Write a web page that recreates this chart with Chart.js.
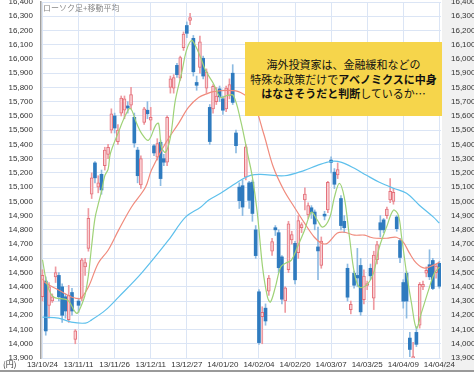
<!DOCTYPE html>
<html>
<head>
<meta charset="utf-8">
<script src="https://cdn.jsdelivr.net/npm/chart.js@4.4.0/dist/chart.umd.min.js"></script>
<style>
  body { margin: 0; background: #fff; }
  #wrap { position: relative; width: 474px; height: 372px; }
  #title { position: absolute; left: 43px; top: 2px; font: 8px "Noto Sans CJK JP"; color: #888; }
  #unit { position: absolute; left: 3px; top: 358px; font: 8px "Noto Sans CJK JP"; color: #333; }
  #note {
    position: absolute; left: 245px; top: 42px; width: 197px; height: 74px;
    background: #f6d54b; display: flex; align-items: center; justify-content: center;
    font: 11px/14.5px "Noto Sans CJK JP"; color: #111; text-align: center;
  }
  #note b { font-weight: 700; }
</style>
</head>
<body>
<div id="wrap">
  <canvas id="candleChart" width="474" height="372"></canvas>
  <div id="title">ローソク足+移動平均</div>
  <div id="unit">(円)</div>
  <div id="note"><div>海外投資家は、金融緩和などの<br>特殊な政策だけで<b>アベノミクスに中身</b><br><b>はなさそうだと判断</b>しているか…</div></div>
</div>
<script>
// tick labels, one every 11 trading days
const tickDates = ["13/10/24", "13/11/11", "13/11/26", "13/12/11", "13/12/27", "14/01/20",
  "14/02/04", "14/02/20", "14/03/07", "14/03/25", "14/04/09", "14/04/24"];

// daily candles (index 0 = 13/10/24)
const opens = [14330, 14440, 14270, 14300, 14470, 14480, 14400, 14330, 14170, 14360,
  14030, 14300, 14320, 14540, 14670, 15050, 15270, 15100, 15190, 15250,
  15330, 15500, 15600, 15420, 15620, 15640, 15670, 15675, 15590, 15360,
  15115, 15555, 15640, 15570, 15390, 15310, 15415, 15300, 15275, 15800,
  15795, 15955, 15865, 16080, 16235, 16270, 16145, 15835, 15940, 16005,
  15795, 15660, 15650, 15700, 15790, 15720, 15650, 15740, 15900, 15480,
  15100, 15110, 15170, 15130, 15135, 14800, 14365, 14190, 14250, 14370,
  14650, 14815, 14780, 14610, 14300, 14520, 14730, 14705, 14640, 14815,
  15010, 14905, 14955, 14925, 14680, 14550, 14910, 14940, 15290, 15205,
  15185, 15020, 14860, 14530, 14240, 14495, 14480, 14550, 14310, 14410,
  14530, 14320, 14590, 14850, 14870, 14900, 15010, 15000, 14890, 14725,
  14430, 14495, 14040, 13895, 14080, 14130, 14400, 14495, 14555, 14585,
  14500, 14565];
const highs = [14520, 14470, 14430, 14350, 14540, 14500, 14420, 14350, 14410, 14390,
  14100, 14320, 14600, 14600, 14950, 15200, 15280, 15180, 15220, 15380,
  15400, 15650, 15620, 15540, 15740, 15740, 15700, 15800, 15620, 15380,
  15320, 15660, 15700, 15660, 15400, 15440, 15430, 15330, 15600, 15880,
  15890, 15970, 16020, 16190, 16260, 16320, 16165, 15880, 16160, 16020,
  15930, 15680, 15820, 15800, 15810, 15740, 15810, 15860, 15960, 15500,
  15130, 15150, 15400, 15140, 15150, 14830, 14380, 14260, 14280, 14480,
  14740, 14830, 14800, 14620, 14400, 14860, 14790, 14720, 14900, 14850,
  15095, 14990, 14970, 14940, 14820, 14750, 14930, 15140, 15312, 15230,
  15270, 15040, 14900, 14560, 14300, 14510, 14670, 14600, 14520, 14440,
  14560, 14650, 14720, 14900, 14880, 14960, 15160, 15090, 14900, 14740,
  14450, 14510, 14080, 14010, 14120, 14430, 14440, 14540, 14660, 14600,
  14560, 14580];
const lows = [14300, 14060, 14180, 14290, 14430, 14300, 14150, 14180, 14150, 14200,
  14000, 14220, 14300, 14480, 14650, 15020, 15130, 15060, 15050, 15220,
  15300, 15480, 15480, 15400, 15600, 15580, 15620, 15650, 15380, 15130,
  15090, 15540, 15580, 15500, 15320, 15290, 15110, 15250, 15250, 15760,
  15760, 15870, 15850, 16060, 16150, 16240, 15880, 15780, 15900, 15860,
  15760, 15400, 15620, 15680, 15700, 15610, 15630, 15720, 15680, 15340,
  14950, 14900, 15150, 14950, 14860, 14600, 13995, 14000, 14130, 14340,
  14620, 14760, 14500, 14280, 14220, 14500, 14700, 14420, 14600, 14780,
  14940, 14880, 14880, 14800, 14450, 14530, 14870, 14920, 15200, 15090,
  15160, 14800, 14780, 14300, 14210, 14390, 14400, 14200, 14280, 14380,
  14450, 14240, 14560, 14750, 14780, 14880, 14990, 14980, 14790, 14570,
  14250, 14180, 13910, 13885, 13980, 14110, 14380, 14470, 14450, 14380,
  14460, 14390];
const closes = [14480, 14090, 14400, 14330, 14500, 14330, 14200, 14230, 14340, 14230,
  14090, 14270, 14590, 14570, 14880, 15165, 15165, 15130, 15080, 15360,
  15380, 15615, 15515, 15500, 15725, 15720, 15655, 15750, 15410, 15180,
  15300, 15650, 15615, 15590, 15340, 15405, 15160, 15275, 15590, 15860,
  15870, 15890, 16010, 16175, 16180, 16291, 15910, 15815, 16120, 15880,
  15910, 15420, 15808, 15740, 15734, 15640, 15795, 15820, 15695, 15391,
  15005, 14960, 15383, 15007, 14915, 14619, 14008, 14220, 14160, 14462,
  14718, 14800, 14534, 14313, 14393, 14843, 14766, 14449, 14865, 14837,
  15051, 14970, 14923, 14841, 14652, 14721, 14897, 15134, 15274, 15120,
  15224, 14830, 14815, 14327, 14277, 14411, 14462, 14224, 14475, 14423,
  14477, 14622, 14696, 14800, 14800, 14946, 15071, 15063, 14808, 14606,
  14299, 14300, 13960, 13910, 13996, 14417, 14417, 14516, 14470, 14388,
  14546, 14404];

// moving averages: [index, value]
const ma5 = [[0, 14590], [1.5, 14412], [3.4, 14328], [7.6, 14307], [10, 14222], [10.7, 14215],
  [12.5, 14307], [13.1, 14356], [14, 14480], [15, 14690], [16, 14880], [17, 14980], [18, 15070],
  [19, 15180], [20, 15225], [20.7, 15336], [23.2, 15488], [25.3, 15604], [26.8, 15653],
  [28.7, 15548], [30.2, 15478], [32.3, 15429], [34.5, 15534], [35.4, 15548], [36.3, 15380],
  [37.5, 15345], [39, 15450], [40.5, 15709], [42.4, 15899], [43.9, 16060], [45.4, 16130],
  [46.6, 16095], [48.2, 16011], [49.7, 15920], [52.1, 15828], [54.3, 15730], [56.4, 15744],
  [58.2, 15744], [60.4, 15569], [62.5, 15338], [64, 15170], [65.5, 14917], [67.1, 14538],
  [68.6, 14328], [69.5, 14293], [71, 14398], [72.6, 14538], [74.1, 14566], [75.9, 14587],
  [77.7, 14678], [79.9, 14797], [82, 14924], [83.8, 14868], [85.4, 14819], [87.5, 14882],
  [89, 15029], [90.5, 15127], [92, 15029], [93.6, 14748], [95.1, 14496], [96.6, 14398],
  [98.8, 14412], [100.9, 14496], [102.7, 14678], [104.9, 14819], [107, 14938], [108.5, 14903],
  [109.5, 14748], [111, 14496], [112.5, 14286], [114, 14110], [115.5, 14215], [117.7, 14377],
  [119.5, 14496], [121, 14538]];
const ma25 = [[0, 14455], [1, 14426], [4.9, 14377], [8.8, 14328], [10, 14321], [11.6, 14318],
  [14, 14398], [17, 14566], [20, 14657], [23.2, 14798], [27.1, 14959], [31.4, 15099],
  [33.2, 15218], [37.5, 15408], [41.5, 15548], [44.5, 15660], [47.6, 15730], [50.6, 15760],
  [52.1, 15770], [56.4, 15779], [60.4, 15765], [64.3, 15688], [67.4, 15478], [70.4, 15239],
  [73.6, 15078], [76.8, 14959], [79.9, 14847], [82.9, 14748], [85.1, 14706], [86.9, 14706],
  [89.9, 14777], [92.1, 14783], [95.1, 14763], [98.2, 14763], [100, 14748], [101.8, 14741],
  [104.9, 14741], [107.9, 14748], [110, 14713], [111.9, 14636], [114, 14566], [116.5, 14531],
  [119.2, 14552], [121, 14573]];
const ma75 = [[0, 14187], [4.9, 14180], [8.8, 14152], [13.1, 14145], [14.9, 14166],
  [19.2, 14236], [23.2, 14328], [30.2, 14496], [38.4, 14727], [43.6, 14889], [48.2, 14959],
  [50.6, 15008], [54.3, 15057], [60.4, 15148], [63.4, 15183], [66.5, 15190], [73.8, 15180],
  [79.9, 15218], [83.8, 15253], [88.1, 15281], [91.2, 15274], [95.1, 15232], [98.8, 15183],
  [102.7, 15134], [107, 15092], [111, 15057], [114.9, 14973], [119.2, 14889], [121, 14847]];

// split candles into up / down sets
const upBody = [], downBody = [], upWick = [], downWick = [];
closes.forEach((c, i) => {
  if (c >= opens[i]) {
    upBody.push({ x: i, y: [opens[i], c] });
    upWick.push({ x: i, y: [lows[i], highs[i]] });
  } else {
    downBody.push({ x: i, y: [c, opens[i]] });
    downWick.push({ x: i, y: [lows[i], highs[i]] });
  }
});
const toPts = (arr) => arr.map(p => ({ x: p[0], y: p[1] }));

const sidePanel = {
  id: "sidePanel",
  beforeDraw(chart) {
    const { ctx, chartArea } = chart;
    ctx.save();
    ctx.fillStyle = "#f1f1f1";
    ctx.fillRect(chartArea.right + 1, 0, chart.width - chartArea.right, chart.height);
    ctx.restore();
  },
  afterDraw(chart) {
    const { ctx } = chart;
    ctx.save();
    ctx.fillStyle = "#9a9a9a";
    ctx.fillRect(0, chart.height - 2, chart.width, 2);
    ctx.restore();
  }
};

const tickFont = { family: "Liberation Sans", size: 8 };
const gridColor = "#dbe5f5";

new Chart(document.getElementById("candleChart"), {
  type: "bar",
  data: {
    datasets: [
      { type: "line", data: toPts(ma5), borderColor: "#9fd277", borderWidth: 1.2, pointRadius: 0, tension: 0.35, order: 1 },
      { type: "line", data: toPts(ma25), borderColor: "#f08a7c", borderWidth: 1.2, pointRadius: 0, tension: 0.35, order: 1 },
      { type: "line", data: toPts(ma75), borderColor: "#5ec0ec", borderWidth: 1.2, pointRadius: 0, tension: 0.35, order: 1 },
      { data: upBody, backgroundColor: "#f9d0d4", borderColor: "#e4707a", borderWidth: 1, borderSkipped: false,
        barThickness: 3, minBarLength: 1, grouped: false, order: 2 },
      { data: downBody, backgroundColor: "#2f7bbf", borderWidth: 0,
        barThickness: 3, minBarLength: 1, grouped: false, order: 2 },
      { data: upWick, backgroundColor: "#ee9aa1", barThickness: 1, grouped: false, order: 3 },
      { data: downWick, backgroundColor: "#8dbbe2", barThickness: 1, grouped: false, order: 3 }
    ]
  },
  options: {
    responsive: false,
    animation: false,
    layout: { padding: { top: 2, left: 0, right: 0, bottom: 0 } },
    plugins: { legend: { display: false }, tooltip: { enabled: false } },
    scales: {
      x: {
        type: "linear",
        offset: false,
        min: -0.45,
        max: 121.5,
        afterBuildTicks: (scale) => { scale.ticks = tickDates.map((d, k) => ({ value: k * 11 })); },
        afterFit: (scale) => { scale.height = 14; scale.paddingLeft = 0; scale.paddingRight = 0; },
        ticks: { font: tickFont, color: "#333", padding: 2, maxRotation: 0, autoSkip: false,
          callback: (v, i) => tickDates[i] },
        grid: { color: gridColor, drawTicks: false, offset: false },
        border: { display: false }
      },
      y: {
        position: "left",
        min: 13900,
        max: 16400,
        afterFit: (scale) => { scale.width = 41; scale.paddingTop = 0; scale.paddingBottom = 0; },
        ticks: { stepSize: 100, font: tickFont, color: "#333", padding: 8,
          callback: (v) => v.toLocaleString("en-US") },
        grid: { color: gridColor, drawTicks: false },
        border: { color: "#a0a0a0", width: 1.5 }
      },
      y2: {
        position: "right",
        min: 13900,
        max: 16400,
        afterFit: (scale) => { scale.width = 33; scale.paddingTop = 0; scale.paddingBottom = 0; },
        ticks: { stepSize: 100, font: tickFont, color: "#333", padding: 10,
          callback: (v) => v.toLocaleString("en-US") },
        grid: { drawOnChartArea: false, drawTicks: false },
        border: { display: false }
      }
    }
  },
  plugins: [sidePanel]
});
</script>
</body>
</html>
